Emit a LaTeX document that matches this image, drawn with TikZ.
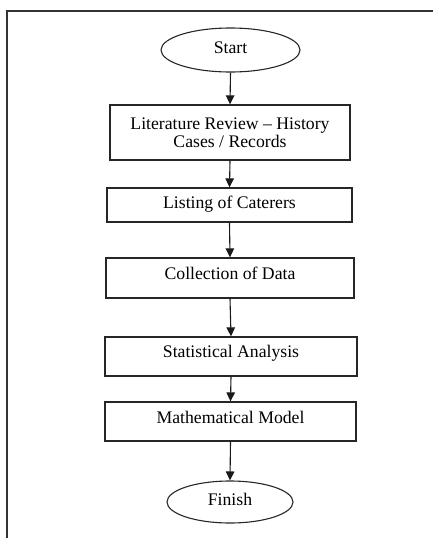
\documentclass[tikz,border=0pt]{standalone}
\usepackage{fontspec}
\setmainfont{Liberation Serif}
\usetikzlibrary{arrows.meta,shapes.geometric}
\begin{document}
\begin{tikzpicture}[x=1pt,y=-1pt,
  every node/.style={font=\fontsize{17.7}{18}\selectfont},
  stepbox/.style={draw=black!85,line width=1.3pt,rectangle,inner sep=0pt},
  terminal/.style={draw=black!85,line width=1.1pt,ellipse,inner sep=0pt},
  txt/.style={inner sep=0pt,align=center},
  arr/.style={draw=black!90,line width=1.1pt,-{Triangle[length=9pt,width=8.5pt]}}]
\useasboundingbox (0,0) rectangle (432,538);
% outer frame (partially visible)
\draw[black!80,line width=1.5pt] (7,540) -- (7,11) -- (434,11);
% nodes
\node[terminal,minimum width=139pt,minimum height=44pt] (start) at (230.5,50) {};
\node[txt] (startT) at (230.5,48) {Start};
\node[stepbox,minimum width=240pt,minimum height=55pt,txt] (b1) at (230,132.5) {Literature Review -- History\\Cases / Records};
\node[stepbox,minimum width=245pt,minimum height=34pt] (b2) at (229.5,205) {};
\node[txt] (b2T) at (229.5,204) {Listing of Caterers};
\node[stepbox,minimum width=248pt,minimum height=40pt] (b3) at (230,278) {};
\node[txt] (b3T) at (230,273) {Collection of Data};
\node[stepbox,minimum width=252pt,minimum height=39pt] (b4) at (231,356.5) {};
\node[txt] (b4T) at (231,353) {Statistical Analysis};
\node[stepbox,minimum width=251pt,minimum height=39pt] (b5) at (230.5,421.5) {};
\node[txt] (b5T) at (230.5,417) {Mathematical Model};
\node[terminal,minimum width=126pt,minimum height=42pt] (finish) at (230,502) {};
\node[txt] (finishT) at (230,499.5) {Finish};
% connectors
\draw[arr] (start.south) -- (b1.north);
\draw[arr] (b1.south) -- (b2.north);
\draw[arr] (b2.south) -- (b3.north);
\draw[arr] (b3.south) -- (b4.north);
\draw[arr] (b4.south) -- (b5.north);
\draw[arr] (b5.south) -- (finish.north);
\end{tikzpicture}
\end{document}
